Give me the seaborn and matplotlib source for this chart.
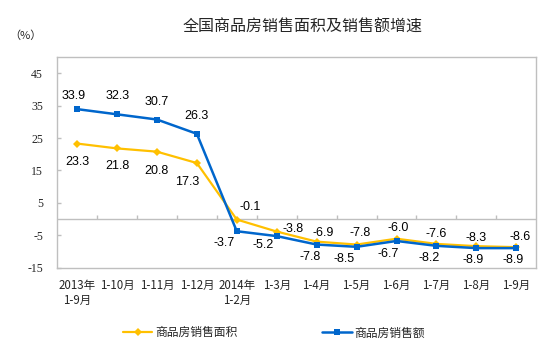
import numpy as np
import pandas as pd
import seaborn as sns
import matplotlib.pyplot as plt

# data
periods = ['2013年\n1-9月', '1-10月', '1-11月', '1-12月', '2014年\n1-2月', '1-3月',
           '1-4月', '1-5月', '1-6月', '1-7月', '1-8月', '1-9月']
area_growth = [23.3, 21.8, 20.8, 17.3, -0.1, -3.8, -6.9, -7.8, -6.0, -7.6, -8.3, -8.6]
sales_growth = [33.9, 32.3, 30.7, 26.3, -3.7, -5.2, -7.8, -8.5, -6.7, -8.2, -8.9, -8.9]
series_names = ['商品房销售面积', '商品房销售额']
y_ticks = [-15, -5, 5, 15, 25, 35, 45]

# label offsets (pixels)
area_offsets = [(0, -18), (0, -18), (0, -19), (-10, -19), (13, 13), (16, 3),
                (7, 9), (4, 12), (2, 11), (0, 10), (0, 8), (4, 10)]
sales_offsets = [(-3, 13), (1, 18), (0, 18), (0, 18), (-13, -12), (-14, -9),
                 (-7, -12), (-13, -12), (-8, -13), (-7, -12), (-3, -12), (-3, -12)]

yellow = '#FFC000'
blue = '#0066CC'
grey = '#BFBFBF'

sns.set_style('white')
plt.rcParams['font.family'] = ['Noto Sans CJK SC', 'DejaVu Sans']

df = pd.DataFrame({
    'idx': list(range(len(periods))) * 2,
    'value': area_growth + sales_growth,
    'series': [series_names[0]] * len(periods) + [series_names[1]] * len(periods),
})

fig = plt.figure(figsize=(5.54, 3.53), dpi=100)
ax = fig.add_axes([0.103, 0.241, 0.865, 0.598])

sns.lineplot(data=df[df['series'] == series_names[0]], x='idx', y='value', ax=ax,
             color=yellow, marker='D', markersize=4.5, markeredgewidth=0,
             linewidth=1.6, label=series_names[0])
sns.lineplot(data=df[df['series'] == series_names[1]], x='idx', y='value', ax=ax,
             color=blue, marker='s', markersize=4.2, markeredgewidth=0,
             linewidth=1.8, label=series_names[1])

# value labels
for vals, offs in [(area_growth, area_offsets), (sales_growth, sales_offsets)]:
    for i, (v, (dx, dy)) in enumerate(zip(vals, offs)):
        ax.annotate(f'{v:.1f}', (i, v), xytext=(dx * 0.72, dy * 0.72),
                    textcoords='offset points', ha='center', va='center',
                    fontsize=9, fontfamily='Liberation Sans', color='black')

# axes styling
ax.set_xlim(-0.5, len(periods) - 0.5)
ax.set_ylim(-15, 50)
ax.axhline(0, color=grey, lw=1, zorder=1)
ax.vlines(np.arange(0.5, len(periods) - 1), 0, 1.3, color=grey, lw=1, zorder=1)

ax.set_xticks(range(len(periods)))
ax.set_xticklabels(periods, fontsize=8.3, linespacing=1.15)
ax.tick_params(axis='x', length=0, pad=8)
ax.set_yticks(y_ticks)
ax.set_yticklabels([str(t) for t in y_ticks], fontsize=8.5, fontfamily='Liberation Serif')
ax.tick_params(axis='y', direction='in', length=3, color=grey, width=1, pad=10, left=True)

for sp in ax.spines.values():
    sp.set_visible(True)
    sp.set_color(grey)
    sp.set_linewidth(1)

ax.set_xlabel('')
ax.set_ylabel('')

handles, labels = ax.get_legend_handles_labels()
if ax.get_legend():
    ax.get_legend().remove()
fig.legend(handles, labels, loc='center', bbox_to_anchor=(0.494, 0.057), ncol=2,
           frameon=False, fontsize=8.5, handlelength=2.5, handletextpad=0.2,
           columnspacing=7.2)

fig.text(0.547, 0.924, '全国商品房销售面积及销售额增速', ha='center', va='center',
         fontsize=11.5)
fig.text(0.016, 0.899, '（%）', ha='left', va='center', fontsize=8)

fig.savefig('out.png', dpi=100)
plt.close(fig)
